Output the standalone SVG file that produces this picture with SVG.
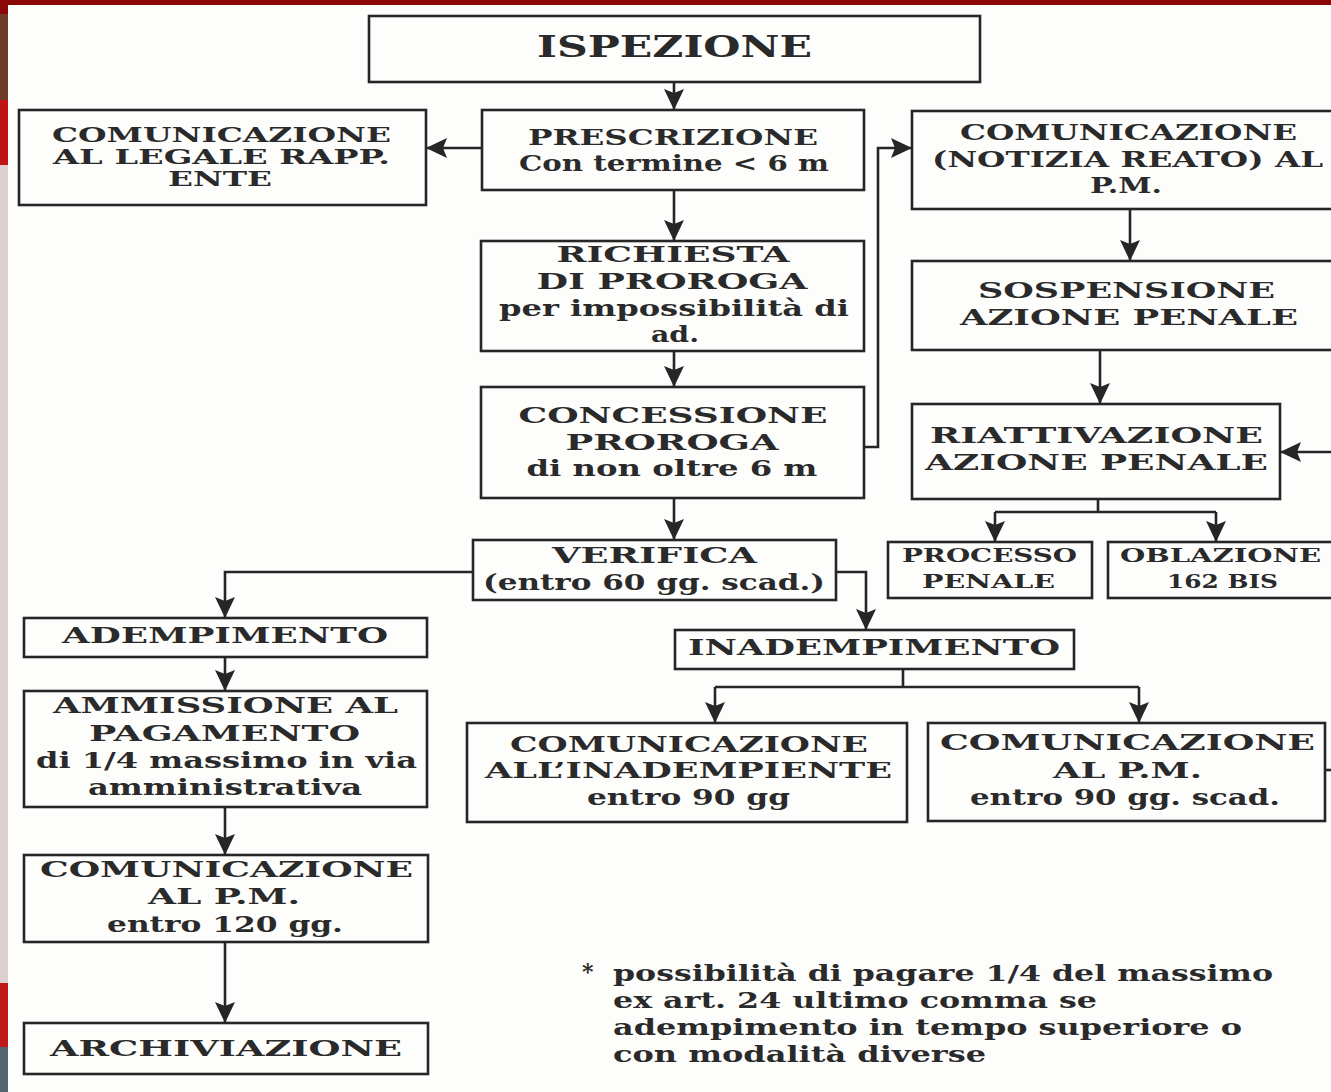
<svg xmlns="http://www.w3.org/2000/svg" width="1331" height="1092" viewBox="0 0 1331 1092">
<style>
.box{fill:none;stroke:#262626;stroke-width:2.6}
.t{font-family:"DejaVu Serif","Liberation Serif",serif;font-weight:bold;font-size:22px;fill:#2a2a2a;text-anchor:middle}
.s{font-size:19px}
.m{font-size:20px}
.big{font-size:29px}
.fn{font-family:"DejaVu Serif","Liberation Serif",serif;font-weight:bold;font-size:22px;fill:#2a2a2a}
.c{fill:none;stroke:#262626;stroke-width:2.6}
</style>
<defs>
<marker id="ah" markerUnits="userSpaceOnUse" markerWidth="24" markerHeight="24" viewBox="0 -12 24 24" refX="21" refY="0" orient="auto">
<path d="M0,-10 L21,0 L0,10 L4,0 z" fill="#262626"/>
</marker>
</defs>
<rect x="0" y="0" width="1331" height="1092" fill="#fdfdfc"/>
<g id="frame">
<rect x="0" y="0" width="1331" height="5" fill="#8a0808"/>
<rect x="0" y="0" width="8" height="14" fill="#8a0808"/>
<rect x="0" y="14" width="8" height="86" fill="#6e3b2a"/>
<rect x="0" y="100" width="8" height="65" fill="#c01414"/>
<rect x="0" y="165" width="8" height="818" fill="#ddd0d0"/>
<rect x="0" y="983" width="8" height="64" fill="#c01818"/>
<rect x="0" y="1047" width="8" height="45" fill="#536572"/>
</g>
<g id="connectors">
<line class="c" x1="674" y1="82" x2="674" y2="110" marker-end="url(#ah)"/>
<line class="c" x1="482" y1="148" x2="426" y2="148" marker-end="url(#ah)"/>
<line class="c" x1="674" y1="190" x2="674" y2="241" marker-end="url(#ah)"/>
<line class="c" x1="674" y1="351" x2="674" y2="387" marker-end="url(#ah)"/>
<line class="c" x1="674" y1="498" x2="674" y2="540" marker-end="url(#ah)"/>
<path class="c" d="M864,447 H878 V148 H912" marker-end="url(#ah)"/>
<line class="c" x1="1130" y1="209" x2="1130" y2="261" marker-end="url(#ah)"/>
<line class="c" x1="1100" y1="350" x2="1100" y2="404" marker-end="url(#ah)"/>
<path class="c" d="M1098,499 V512 M995,512 H1216"/>
<path class="c" d="M995,512 V542" marker-end="url(#ah)"/>
<path class="c" d="M1216,512 V542" marker-end="url(#ah)"/>
<line class="c" x1="1333" y1="452" x2="1280" y2="452" marker-end="url(#ah)"/>
<line class="c" x1="1325" y1="770" x2="1333" y2="770"/>
<path class="c" d="M473,572 H225 V618" marker-end="url(#ah)"/>
<path class="c" d="M836,572 H866 V630" marker-end="url(#ah)"/>
<path class="c" d="M903,669 V687 M715,687 H1139"/>
<path class="c" d="M715,687 V723" marker-end="url(#ah)"/>
<path class="c" d="M1139,687 V723" marker-end="url(#ah)"/>
<line class="c" x1="225" y1="657" x2="225" y2="691" marker-end="url(#ah)"/>
<line class="c" x1="225" y1="807" x2="225" y2="855" marker-end="url(#ah)"/>
<line class="c" x1="225" y1="942" x2="225" y2="1023" marker-end="url(#ah)"/>
</g>
<g id="ispezione">
<rect class="box" x="369" y="16" width="611" height="66"/>
<text class="t big" x="674.5" y="57" textLength="275" lengthAdjust="spacingAndGlyphs">ISPEZIONE</text>
</g>
<g id="legale">
<rect class="box" x="19" y="110" width="407" height="95"/>
<text class="t m" x="221.5" y="142" textLength="339" lengthAdjust="spacingAndGlyphs">COMUNICAZIONE</text>
<text class="t m" x="221.5" y="164" textLength="337" lengthAdjust="spacingAndGlyphs">AL LEGALE RAPP.</text>
<text class="t m" x="220" y="186" textLength="104" lengthAdjust="spacingAndGlyphs">ENTE</text>
</g>
<g id="prescrizione">
<rect class="box" x="482" y="110" width="382" height="80"/>
<text class="t" x="673" y="145" textLength="290" lengthAdjust="spacingAndGlyphs">PRESCRIZIONE</text>
<text class="t" x="674" y="171" textLength="310" lengthAdjust="spacingAndGlyphs">Con termine &lt; 6 m</text>
</g>
<g id="notizia">
<rect class="box" x="912" y="111" width="422" height="98"/>
<text class="t" x="1128.5" y="140" textLength="337" lengthAdjust="spacingAndGlyphs">COMUNICAZIONE</text>
<text class="t" x="1127.5" y="167" textLength="391" lengthAdjust="spacingAndGlyphs">(NOTIZIA REATO) AL</text>
<text class="t" x="1126" y="193" textLength="72" lengthAdjust="spacingAndGlyphs">P.M.</text>
</g>
<g id="richiesta">
<rect class="box" x="481" y="241" width="383" height="110"/>
<text class="t" x="673" y="262" textLength="233" lengthAdjust="spacingAndGlyphs">RICHIESTA</text>
<text class="t" x="672" y="289" textLength="271" lengthAdjust="spacingAndGlyphs">DI PROROGA</text>
<text class="t" x="674" y="316" textLength="350" lengthAdjust="spacingAndGlyphs">per impossibilità di</text>
<text class="t" x="675" y="342" textLength="48" lengthAdjust="spacingAndGlyphs">ad.</text>
</g>
<g id="sospensione">
<rect class="box" x="912" y="261" width="422" height="89"/>
<text class="t" x="1126.5" y="298" textLength="297" lengthAdjust="spacingAndGlyphs">SOSPENSIONE</text>
<text class="t" x="1129" y="325" textLength="338" lengthAdjust="spacingAndGlyphs">AZIONE PENALE</text>
</g>
<g id="concessione">
<rect class="box" x="481" y="387" width="383" height="111"/>
<text class="t" x="673" y="423" textLength="309" lengthAdjust="spacingAndGlyphs">CONCESSIONE</text>
<text class="t" x="672" y="450" textLength="213" lengthAdjust="spacingAndGlyphs">PROROGA</text>
<text class="t" x="672" y="476" textLength="291" lengthAdjust="spacingAndGlyphs">di non oltre 6 m</text>
</g>
<g id="riattivazione">
<rect class="box" x="912" y="404" width="368" height="95"/>
<text class="t" x="1096.5" y="443" textLength="333" lengthAdjust="spacingAndGlyphs">RIATTIVAZIONE</text>
<text class="t" x="1096.5" y="470" textLength="343" lengthAdjust="spacingAndGlyphs">AZIONE PENALE</text>
</g>
<g id="verifica">
<rect class="box" x="473" y="540" width="363" height="60"/>
<text class="t" x="654.5" y="563" textLength="205" lengthAdjust="spacingAndGlyphs">VERIFICA</text>
<text class="t" x="654" y="590" textLength="342" lengthAdjust="spacingAndGlyphs">(entro 60 gg. scad.)</text>
</g>
<g id="processo">
<rect class="box" x="888" y="542" width="204" height="56"/>
<text class="t s" x="989.5" y="562" textLength="175" lengthAdjust="spacingAndGlyphs">PROCESSO</text>
<text class="t s" x="988.5" y="588" textLength="133" lengthAdjust="spacingAndGlyphs">PENALE</text>
</g>
<g id="oblazione">
<rect class="box" x="1108" y="542" width="226" height="56"/>
<text class="t s" x="1220.5" y="562" textLength="201" lengthAdjust="spacingAndGlyphs">OBLAZIONE</text>
<text class="t s" x="1222.5" y="588" textLength="111" lengthAdjust="spacingAndGlyphs">162 BIS</text>
</g>
<g id="adempimento">
<rect class="box" x="24" y="618" width="403" height="39"/>
<text class="t" x="225" y="643" textLength="326" lengthAdjust="spacingAndGlyphs">ADEMPIMENTO</text>
</g>
<g id="inadempimento">
<rect class="box" x="675" y="630" width="399" height="39"/>
<text class="t" x="874" y="655" textLength="372" lengthAdjust="spacingAndGlyphs">INADEMPIMENTO</text>
</g>
<g id="ammissione">
<rect class="box" x="24" y="691" width="403" height="116"/>
<text class="t" x="225.5" y="713" textLength="345" lengthAdjust="spacingAndGlyphs">AMMISSIONE AL</text>
<text class="t" x="224.5" y="741" textLength="271" lengthAdjust="spacingAndGlyphs">PAGAMENTO</text>
<text class="t" x="226.5" y="768" textLength="381" lengthAdjust="spacingAndGlyphs">di 1/4 massimo in via</text>
<text class="t" x="225" y="795" textLength="274" lengthAdjust="spacingAndGlyphs">amministrativa</text>
</g>
<g id="com-inadempiente">
<rect class="box" x="467" y="723" width="440" height="99"/>
<text class="t" x="689" y="752" textLength="358" lengthAdjust="spacingAndGlyphs">COMUNICAZIONE</text>
<text class="t" x="688.5" y="778" textLength="407" lengthAdjust="spacingAndGlyphs">ALL’INADEMPIENTE</text>
<text class="t" x="688.5" y="805" textLength="203" lengthAdjust="spacingAndGlyphs">entro 90 gg</text>
</g>
<g id="com-pm-90">
<rect class="box" x="928" y="723" width="397" height="98"/>
<text class="t" x="1127.5" y="750" textLength="375" lengthAdjust="spacingAndGlyphs">COMUNICAZIONE</text>
<text class="t" x="1127.5" y="778" textLength="149" lengthAdjust="spacingAndGlyphs">AL P.M.</text>
<text class="t" x="1125" y="805" textLength="310" lengthAdjust="spacingAndGlyphs">entro 90 gg. scad.</text>
</g>
<g id="com-pm-120">
<rect class="box" x="24" y="855" width="404" height="87"/>
<text class="t" x="226.5" y="877" textLength="373" lengthAdjust="spacingAndGlyphs">COMUNICAZIONE</text>
<text class="t" x="224" y="904" textLength="152" lengthAdjust="spacingAndGlyphs">AL P.M.</text>
<text class="t" x="225" y="932" textLength="236" lengthAdjust="spacingAndGlyphs">entro 120 gg.</text>
</g>
<g id="archiviazione">
<rect class="box" x="24" y="1023" width="404" height="51"/>
<text class="t" x="226" y="1056" textLength="352" lengthAdjust="spacingAndGlyphs">ARCHIVIAZIONE</text>
</g>
<g id="footnote">
<text class="fn" x="582" y="979">*</text>
<text class="fn" x="613" y="981" textLength="660" lengthAdjust="spacingAndGlyphs">possibilità di pagare 1/4 del massimo</text>
<text class="fn" x="613" y="1008" textLength="484" lengthAdjust="spacingAndGlyphs">ex art. 24 ultimo comma se</text>
<text class="fn" x="613" y="1035" textLength="629" lengthAdjust="spacingAndGlyphs">adempimento in tempo superiore o</text>
<text class="fn" x="613" y="1062" textLength="373" lengthAdjust="spacingAndGlyphs">con modalità diverse</text>
</g>
</svg>
